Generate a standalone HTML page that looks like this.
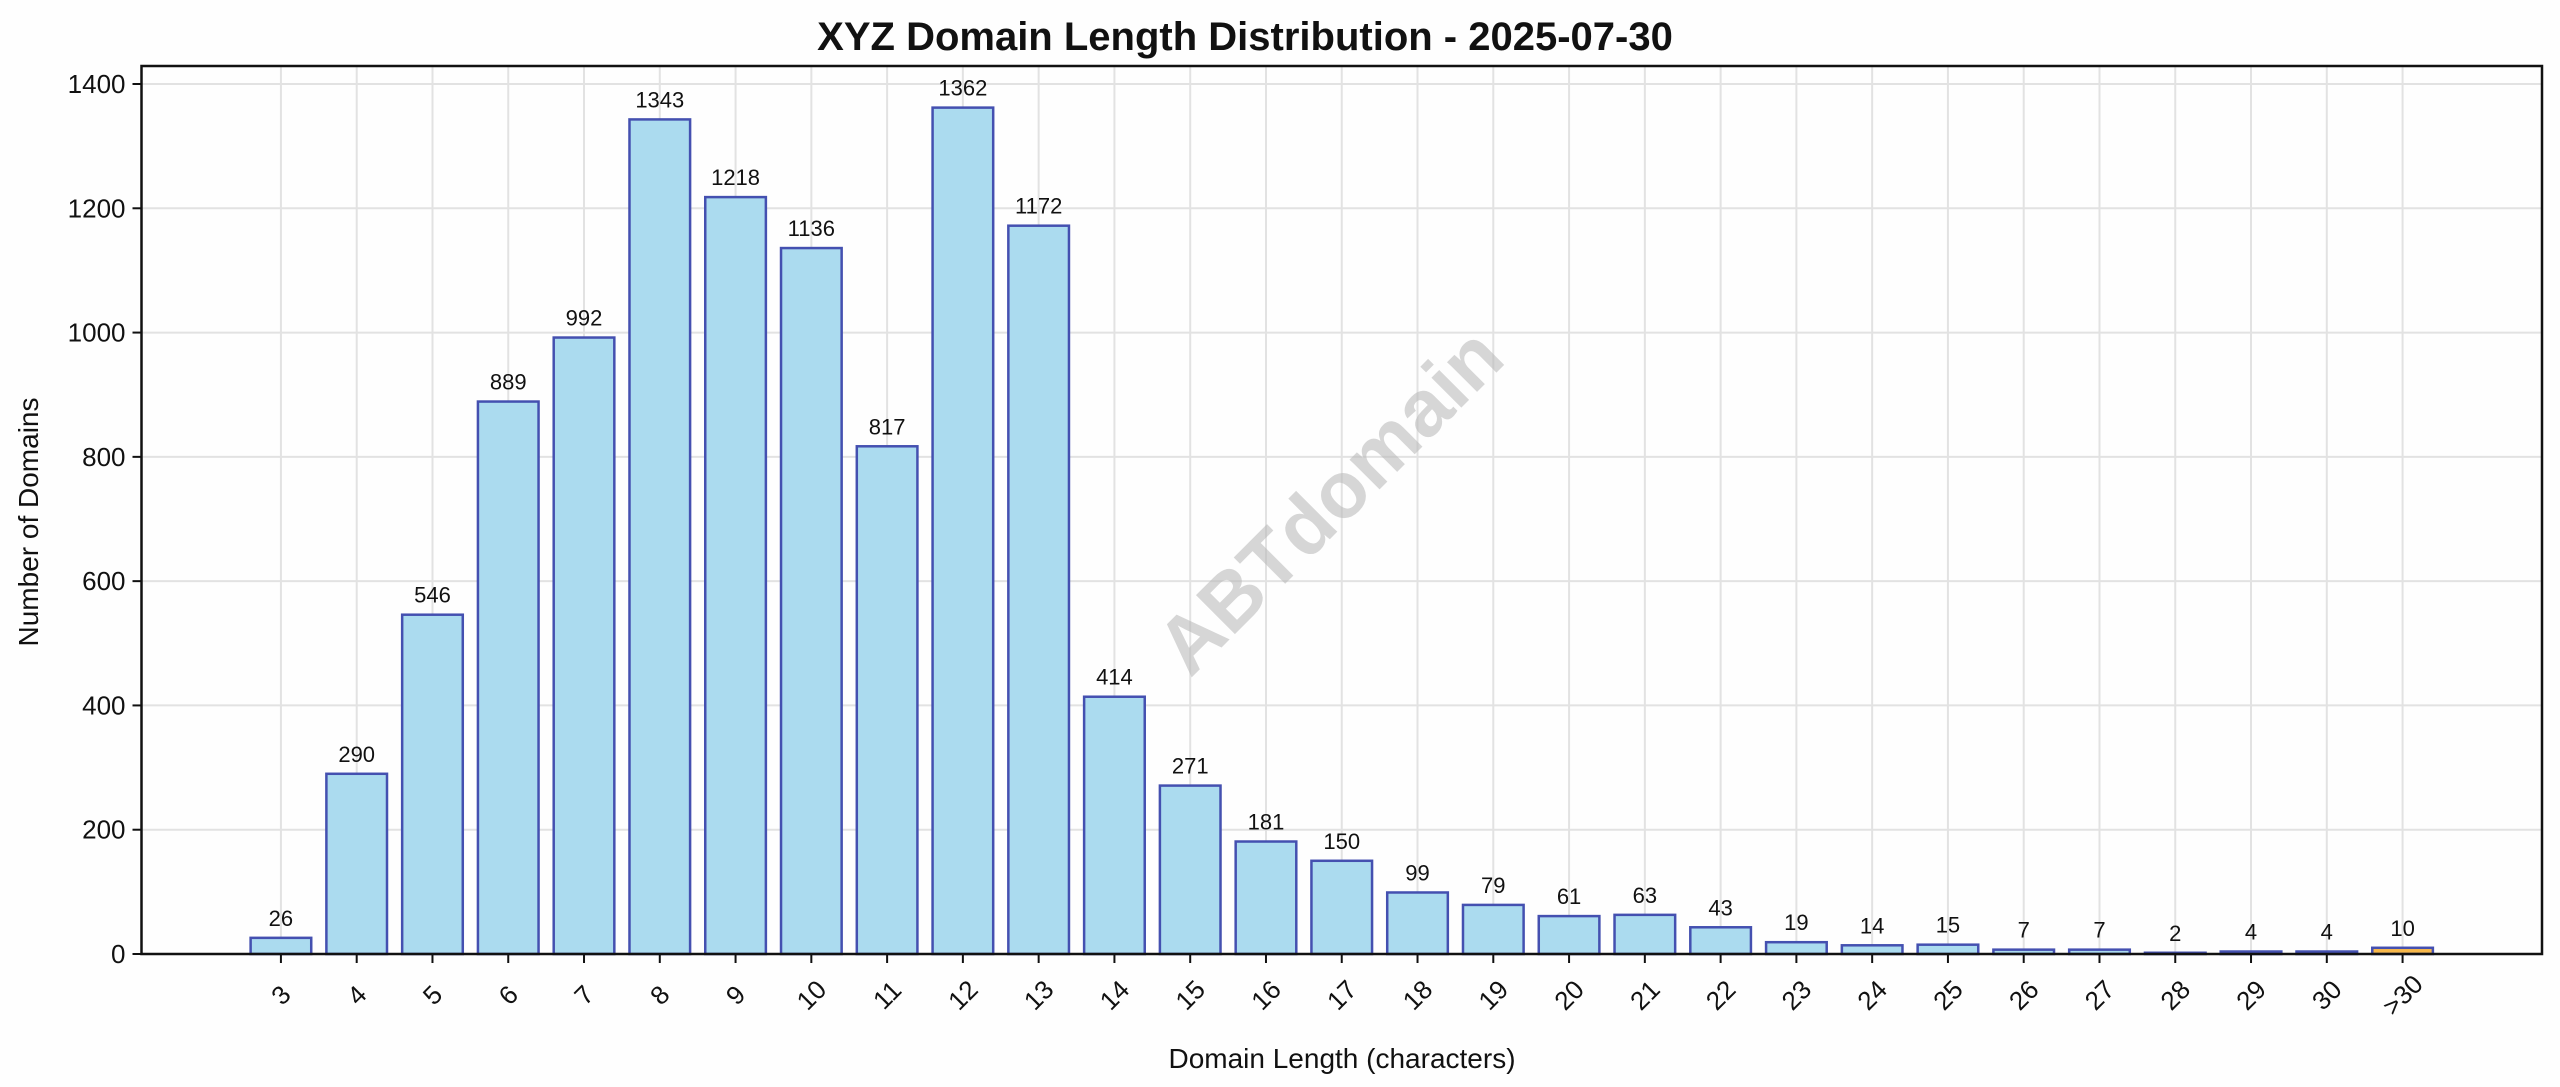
<!DOCTYPE html>
<html><head><meta charset="utf-8"><style>
body{margin:0;background:#fefefe;}
svg{display:block;font-family:"Liberation Sans","DejaVu Sans",sans-serif;}
</style></head><body>
<svg id="chart" width="2560" height="1087" viewBox="0 0 2560 1087" xmlns="http://www.w3.org/2000/svg">
<rect x="0" y="0" width="2560" height="1087" fill="#fefefe"/>
<text x="1245" y="50" text-anchor="middle" font-size="40" font-weight="bold" fill="#111">XYZ Domain Length Distribution - 2025-07-30</text>
<g id="grid"></g>
<text x="1349" y="520" text-anchor="middle" font-size="80" font-weight="bold" fill="#bbb" fill-opacity="0.6" transform="rotate(-45 1349 520)">ABTdomain</text>
<g id="bars"></g>
<g id="axes"></g>
<text transform="translate(38 522) rotate(-90)" text-anchor="middle" font-size="28" fill="#111">Number of Domains</text>
<text x="1342" y="1068" text-anchor="middle" font-size="28" fill="#111">Domain Length (characters)</text>
</svg>
<script>
const categories = ["3","4","5","6","7","8","9","10","11","12","13","14","15","16","17","18","19","20","21","22","23","24","25","26","27","28","29","30",">30"];
const counts = [26,290,546,889,992,1343,1218,1136,817,1362,1172,414,271,181,150,99,79,61,63,43,19,14,15,7,7,2,4,4,10];
const yTicks = [0,200,400,600,800,1000,1200,1400];

const L=141.5,R=2542,T=66,B=954;
const xMin=-1.84,xMax=29.84,yMax=1400;
const sx=i=>L+(i-xMin)/(xMax-xMin)*(R-L);
const sy=v=>B-v/yMax*(B-84);
const NS="http://www.w3.org/2000/svg";
function mk(tag,attrs,parent){const e=document.createElementNS(NS,tag);for(const k in attrs)e.setAttribute(k,attrs[k]);parent.appendChild(e);return e;}
const grid=document.getElementById('grid'),bars=document.getElementById('bars'),axes=document.getElementById('axes');
const bw=(sx(1)-sx(0))*0.8;

yTicks.forEach(v=>{
  const g=mk('line',{x1:L,x2:R,y1:sy(v),y2:sy(v),stroke:'#e2e2e2','stroke-width':2},grid);
  
  
  const t=mk('line',{x1:L-9,x2:L,y1:sy(v),y2:sy(v),stroke:'#111','stroke-width':2},axes);
  
  
  const lb=mk('text',{x:L-16,y:sy(v)+9,'text-anchor':'end','font-size':26,fill:'#111'},axes);
  lb.textContent=v;
  
  
});
categories.forEach((c,i)=>{
  const x=sx(i);
  const g=mk('line',{x1:x,x2:x,y1:T,y2:B,stroke:'#e2e2e2','stroke-width':2},grid);
  
  
  const last=i===categories.length-1;
  const y=sy(counts[i]);
  const r=mk('rect',{x:x-bw/2,y:y,width:bw,height:B-y,fill:last?'#f8b84a':'#abdbef',stroke:'#4450b0','stroke-width':2.5},bars);
  
  
  const v=mk('text',{x:x,y:y-12,'text-anchor':'middle','font-size':22,fill:'#111'},bars);
  v.textContent=counts[i];
  
  
  const t=mk('line',{x1:x,x2:x,y1:B,y2:B+9,stroke:'#111','stroke-width':2},axes);
  
  
  const lb=mk('text',{x:x,y:1004,'text-anchor':'middle','font-size':26,fill:'#111',transform:'rotate(-45 '+x+' 995)'},axes);
  lb.textContent=c;
  
  
});
const frame=mk('rect',{x:L,y:T,width:R-L,height:B-T,fill:'none',stroke:'#111','stroke-width':2.5},axes);


</script>
</body></html>
